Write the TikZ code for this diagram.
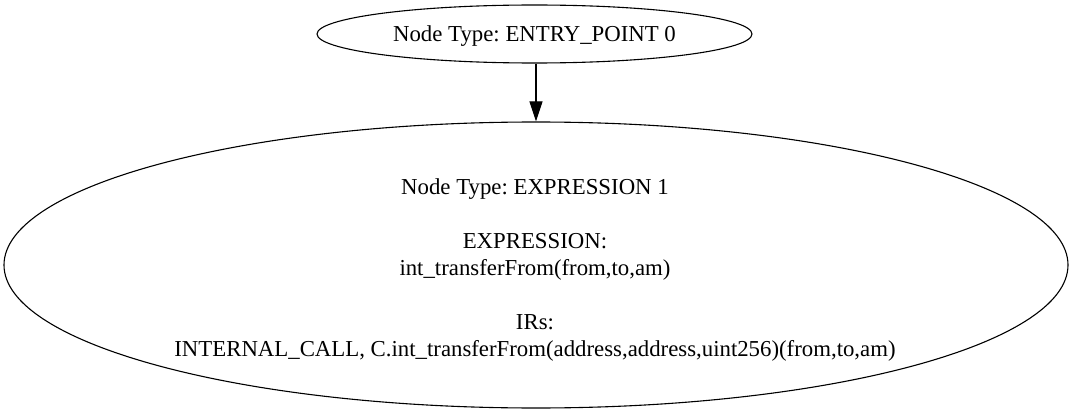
\documentclass[tikz,border=0pt]{standalone}
\usepackage{fontspec}
\setmainfont{Liberation Serif}
\usetikzlibrary{arrows.meta,shapes.geometric}
\begin{document}
\frenchspacing
\begin{tikzpicture}[x=1pt,y=-1pt,
  gshape/.style={draw=black,line width=1.1pt,ellipse,inner sep=0pt},
  gtext/.style={inner sep=0pt,align=center,font=\fontsize{22.8}{27.2}\selectfont\frenchspacing},
  edge/.style={draw=black,line width=1.1pt,-{Triangle[length=20pt,width=13pt]}}]
\useasboundingbox (0,0) rectangle (1072,412);
\fill[white] (0,0) rectangle (1072,412);
\node[gshape,minimum width=435pt,minimum height=58pt] (n0) at (534.5,34) {};
\node[gtext,anchor=base] (t0) at (534.5,42) {Node Type: ENTRY\_POINT 0};
\node[gshape,minimum width=1064pt,minimum height=286pt] (n1) at (536,265) {};
\node[gtext] (t1) at (535,270)
  {Node Type: EXPRESSION 1\\[26.5pt]
   EXPRESSION:\\
   int\_transferFrom(from,to,am)\\[26.5pt]
   IRs:\\
   INTERNAL\_CALL, C.int\_transferFrom(address,address,uint256)(from,to,am)};
\draw[edge] (n0.south -| 536,0) -- (n1.north -| 536,0);
\end{tikzpicture}
\end{document}
